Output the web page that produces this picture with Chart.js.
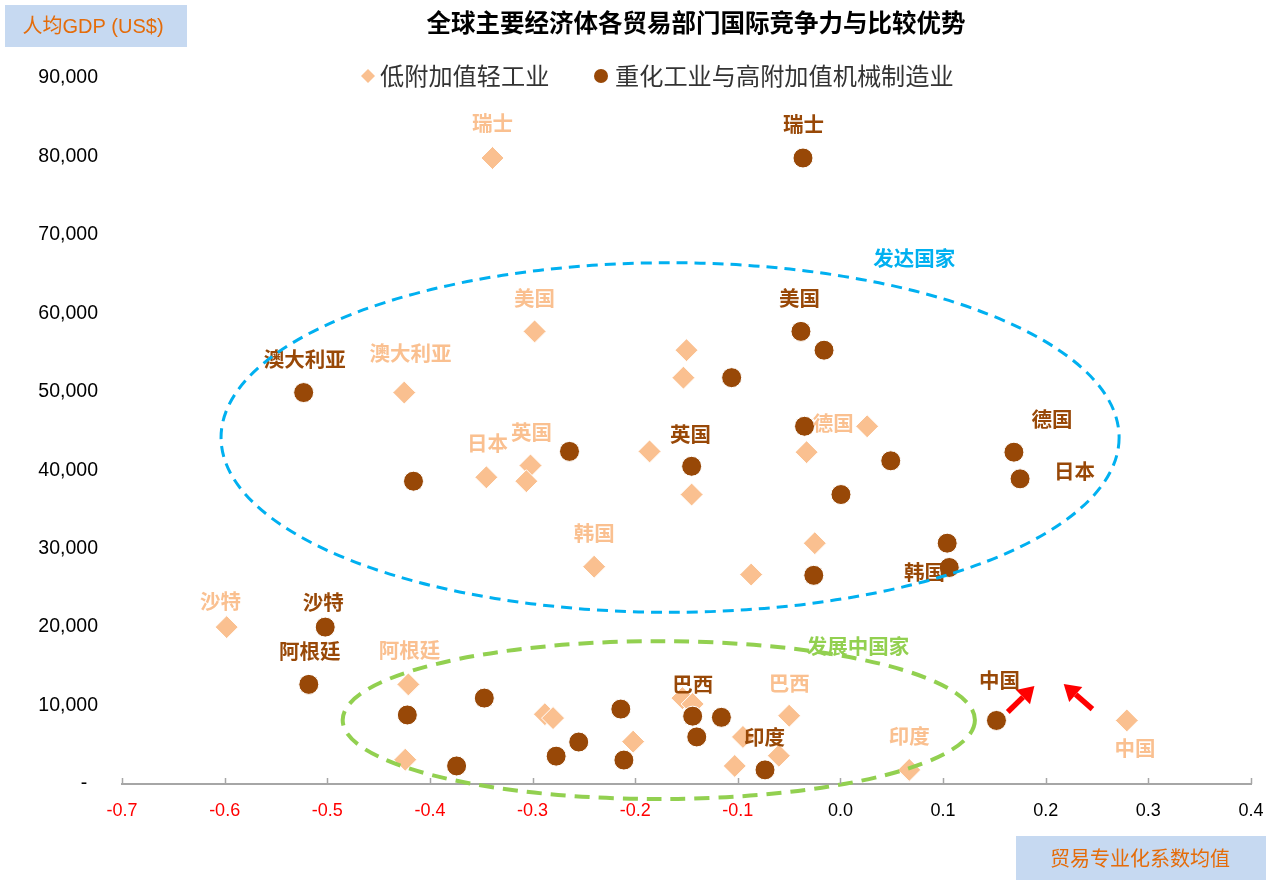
<!DOCTYPE html>
<html>
<head>
<meta charset="utf-8">
<script src="https://cdn.jsdelivr.net/npm/chart.js@4/dist/chart.umd.min.js"></script>
<style>
  html, body { margin: 0; padding: 0; background: #fff; }
  #wrap { width: 1274px; height: 882px; }
</style>
</head>
<body>
<div id="wrap"><canvas id="c" width="1274" height="882"></canvas></div>
<script>
// 低附加值轻工业: 贸易专业化系数均值 (x) 与人均GDP (y)
const lightX = [-0.339, -0.298, -0.150, -0.153, -0.425, 0.026, -0.186, -0.033, -0.302, -0.345,
                -0.306, -0.145, -0.025, -0.240, -0.087, -0.598, -0.421, -0.288, -0.280, -0.424,
                -0.202, -0.154, -0.144, -0.050, -0.095, -0.060, -0.103, 0.067, 0.279];
const lightY = [79800, 57700, 55300, 51800, 49900, 45600, 42400, 42300, 40600, 39100,
                38600, 36900, 30700, 27700, 26700, 20000, 12700, 8900, 8400, 3100,
                5400, 10950, 10200, 8700, 6000, 3600, 2300, 1800, 8100];

// 重化工业与高附加值机械制造业
const heavyX = [-0.0365, -0.0385, -0.016, -0.106, -0.523, -0.035, -0.264, 0.049, 0.169, -0.145,
                0.175, -0.416, 0.0005, 0.104, 0.106, -0.026, -0.502, -0.518, -0.347, -0.422,
                -0.214, -0.144, -0.116, -0.140, -0.255, -0.277, -0.211, -0.374, -0.0735, 0.152];
const heavyY = [79800, 57700, 55300, 51800, 49900, 45600, 42400, 41200, 42300, 40500,
                38900, 38600, 36900, 30700, 27600, 26600, 20000, 12700, 10950, 8800,
                9550, 8650, 8500, 6000, 5350, 3550, 3050, 2300, 1800, 8100];

const seriesNames = ['低附加值轻工业', '重化工业与高附加值机械制造业'];
const xTickValues = [-0.7, -0.6, -0.5, -0.4, -0.3, -0.2, -0.1, 0.0, 0.1, 0.2, 0.3, 0.4];

// 国家标注 (数据坐标)
const lightLabels = [
  ['瑞士', -0.339, 84270], ['美国', -0.298, 61990], ['澳大利亚', -0.419, 54870],
  ['日本', -0.344, 43410], ['英国', -0.301, 44810], ['德国', -0.007, 45950],
  ['韩国', -0.240, 31950], ['沙特', -0.604, 23300], ['阿根廷', -0.420, 17060],
  ['巴西', -0.050, 12860], ['印度', 0.067, 6110], ['中国', 0.287, 4580]
];
const heavyLabels = [
  ['瑞士', -0.036, 84150], ['美国', -0.040, 61870], ['澳大利亚', -0.522, 54100],
  ['英国', -0.146, 44560], ['德国', 0.206, 46460], ['日本', 0.228, 39840],
  ['韩国', 0.082, 26990], ['沙特', -0.504, 23170], ['阿根廷', -0.517, 16930],
  ['巴西', -0.144, 12730], ['印度', -0.074, 5980], ['中国', 0.155, 13240]
];
const groupLabels = [
  ['发达国家', 0.072, 67090, '#00b0f0'],
  ['发展中国家', 0.017, 17570, '#92d050']
];
// 分组椭圆: 中心x, 中心y, 半轴x, 半轴y
const groupEllipses = [
  [-0.166, 44170, 0.4375, 22280, '#00b0f0', 3, [11, 7]],
  [-0.177, 8150, 0.308, 10060, '#92d050', 4, [15, 9]]
];
// 中国的变化方向箭头: 起点x, 起点y, 终点x, 终点y
const chinaArrows = [
  [0.163, 9170, 0.189, 12500],
  [0.2455, 9550, 0.2175, 12750]
];

const LIGHT = '#fac090';
const HEAVY = '#984807';
const CJK = '"Noto Sans CJK SC", sans-serif';
const LATIN = '"Liberation Sans", Arial, "Noto Sans CJK SC", sans-serif';

const toPoints = (xs, ys) => xs.map((v, i) => ({ x: v, y: ys[i] }));

const overlay = {
  id: 'overlay',
  afterDatasetsDraw(chart) {
    const { ctx } = chart;
    const sx = chart.scales.x, sy = chart.scales.y;
    ctx.save();

    // 国家标注
    ctx.textAlign = 'center';
    ctx.textBaseline = 'middle';
    ctx.font = 'bold 20.5px ' + CJK;
    ctx.fillStyle = LIGHT;
    lightLabels.forEach(([t, x, y]) => ctx.fillText(t, sx.getPixelForValue(x), sy.getPixelForValue(y)));
    ctx.fillStyle = HEAVY;
    heavyLabels.forEach(([t, x, y]) => ctx.fillText(t, sx.getPixelForValue(x), sy.getPixelForValue(y)));
    groupLabels.forEach(([t, x, y, c]) => {
      ctx.fillStyle = c;
      ctx.fillText(t, sx.getPixelForValue(x), sy.getPixelForValue(y));
    });

    // 分组虚线椭圆
    groupEllipses.forEach(([cx, cy, rx, ry, c, w, dash]) => {
      const px = sx.getPixelForValue(cx), py = sy.getPixelForValue(cy);
      const prx = Math.abs(sx.getPixelForValue(cx + rx) - px);
      const pry = Math.abs(sy.getPixelForValue(cy + ry) - py);
      ctx.beginPath();
      ctx.setLineDash(dash);
      ctx.strokeStyle = c;
      ctx.lineWidth = w;
      ctx.ellipse(px, py, prx, pry, 0, 0, Math.PI * 2);
      ctx.stroke();
    });
    ctx.setLineDash([]);

    // 箭头
    chinaArrows.forEach(([x0, y0, x1, y1]) => {
      const ax = sx.getPixelForValue(x0), ay = sy.getPixelForValue(y0);
      const bx = sx.getPixelForValue(x1), by = sy.getPixelForValue(y1);
      const ang = Math.atan2(by - ay, bx - ax);
      const head = 16, half = 10;
      const hx = bx - head * Math.cos(ang), hy = by - head * Math.sin(ang);
      ctx.strokeStyle = '#ff0000';
      ctx.fillStyle = '#ff0000';
      ctx.lineWidth = 5.5;
      ctx.beginPath();
      ctx.moveTo(ax, ay);
      ctx.lineTo(hx, hy);
      ctx.stroke();
      ctx.beginPath();
      ctx.moveTo(bx, by);
      ctx.lineTo(hx + half * Math.sin(ang), hy - half * Math.cos(ang));
      ctx.lineTo(hx - half * Math.sin(ang), hy + half * Math.cos(ang));
      ctx.closePath();
      ctx.fill();
    });

    ctx.restore();
  },
  afterDraw(chart) {
    const { ctx, chartArea } = chart;
    const sx = chart.scales.x;
    ctx.save();

    // x轴刻度线 (向上)
    ctx.strokeStyle = '#a6a6a6';
    ctx.lineWidth = 1.5;
    xTickValues.forEach(v => {
      const px = Math.round(sx.getPixelForValue(v)) + 0.5;
      ctx.beginPath();
      ctx.moveTo(px, chartArea.bottom);
      ctx.lineTo(px, chartArea.bottom - 6);
      ctx.stroke();
    });

    // 标题
    ctx.fillStyle = '#000';
    ctx.textAlign = 'center';
    ctx.textBaseline = 'middle';
    ctx.font = 'bold 24.5px ' + CJK;
    ctx.fillText('全球主要经济体各贸易部门国际竞争力与比较优势', 696, 23);

    // 图例
    const ds = chart.data.datasets;
    ctx.textAlign = 'left';
    ctx.font = '24.2px ' + CJK;
    ctx.fillStyle = LIGHT;
    ctx.beginPath();
    ctx.moveTo(368, 69); ctx.lineTo(375, 76); ctx.lineTo(368, 83); ctx.lineTo(361, 76);
    ctx.closePath(); ctx.fill();
    ctx.fillStyle = '#333';
    ctx.fillText(ds[0].label, 380, 76);
    ctx.fillStyle = HEAVY;
    ctx.beginPath();
    ctx.arc(601, 76, 7, 0, Math.PI * 2);
    ctx.fill();
    ctx.fillStyle = '#333';
    ctx.fillText(ds[1].label, 615, 76);

    // 坐标轴名称框
    ctx.fillStyle = '#c6d9f1';
    ctx.fillRect(5, 5, 182, 42);
    ctx.fillRect(1016, 836, 250, 44);
    ctx.fillStyle = '#e46c0a';
    ctx.textAlign = 'center';
    ctx.font = '20px ' + LATIN;
    ctx.fillText('人均GDP (US$)', 93, 27);
    ctx.font = '20px ' + CJK;
    ctx.fillText('贸易专业化系数均值', 1140, 858);

    ctx.restore();
  }
};

new Chart(document.getElementById('c'), {
  type: 'scatter',
  data: {
    datasets: [
      {
        label: seriesNames[0],
        data: toPoints(lightX, lightY),
        pointStyle: 'rectRot',
        pointRadius: 11.5,
        pointHoverRadius: 11.5,
        backgroundColor: LIGHT,
        borderColor: '#ffffff',
        borderWidth: 1,
        order: 2
      },
      {
        label: seriesNames[1],
        data: toPoints(heavyX, heavyY),
        pointStyle: 'circle',
        pointRadius: 10,
        pointHoverRadius: 10,
        backgroundColor: HEAVY,
        borderColor: '#ffffff',
        borderWidth: 1,
        order: 1
      }
    ]
  },
  options: {
    responsive: false,
    devicePixelRatio: 1,
    animation: false,
    layout: { padding: { top: 78, right: 23, bottom: 0, left: 0 } },
    plugins: {
      legend: { display: false },
      title: { display: false },
      tooltip: { enabled: false }
    },
    scales: {
      x: {
        type: 'linear',
        min: -0.7,
        max: 0.4,
        grid: { display: false, drawTicks: false },
        border: { display: true, color: '#a6a6a6', width: 2 },
        afterBuildTicks: s => { s.ticks = xTickValues.map(v => ({ value: v })); },
        afterFit: s => { s.height = 98; s.paddingLeft = 0; s.paddingRight = 14; },
        ticks: {
          padding: 16,
          font: { family: LATIN, size: 18 },
          color: c => (c.tick && c.tick.value < -1e-9 ? '#ff0000' : '#000000'),
          callback: v => (Math.abs(v) < 1e-9 ? '0.0' : Number(v).toFixed(1))
        }
      },
      y: {
        type: 'linear',
        min: 0,
        max: 90000,
        grid: { display: false, drawTicks: false },
        border: { display: false },
        afterFit: s => { s.width = 122; },
        ticks: {
          stepSize: 10000,
          padding: 24,
          font: { family: LATIN, size: 19.5 },
          color: '#000000',
          callback: v => (v === 0 ? '-  ' : v.toLocaleString('en-US'))
        }
      }
    }
  },
  plugins: [overlay]
});
</script>
</body>
</html>
